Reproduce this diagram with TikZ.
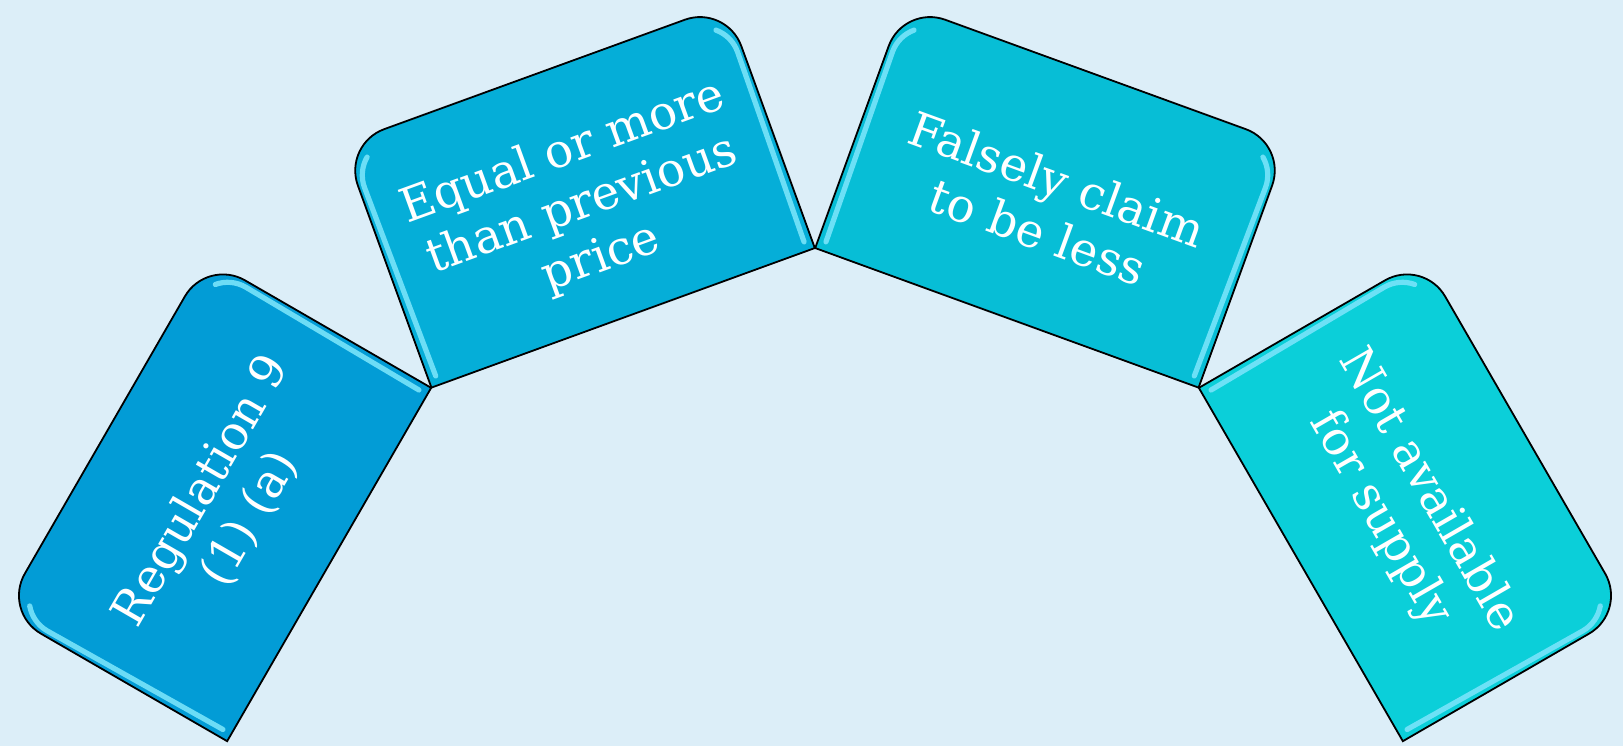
\documentclass[tikz,border=0pt]{standalone}
\usepackage{fontspec}
\setmainfont{DejaVu Serif}
\definecolor{bgc}{RGB}{220,238,248}
\definecolor{c1}{RGB}{2,156,214}
\definecolor{c2}{RGB}{5,174,216}
\definecolor{c3}{RGB}{7,190,214}
\definecolor{c4}{RGB}{11,207,217}
\definecolor{hl}{RGB}{120,228,250}
\begin{document}
\begin{tikzpicture}[x=0.5pt,y=0.5pt,
  boxline/.style={draw=black, line width=0.9pt},
  hilite/.style={draw=hl, line width=2.6pt, line cap=round, opacity=0.9},
  lbl/.style={text=white, font=\fontsize{23.5}{28}\selectfont, align=center}]
\fill[bgc] (0,0) rectangle (1623,746);
\useasboundingbox (0,0) rectangle (1623,746);
\foreach \ang/\col/\txt/\nm in {
  150/c1/{Regulation 9\\(1) (a)}/b1,
  110/c2/{Equal or more\\than previous\\price}/b2,
  70/c3/{Falsely claim\\to be less}/b3,
  30/c4/{Not available\\for supply}/b4}{
  \begin{scope}[shift={(815,-99)}, shift={(\ang:690.5)}, rotate=\ang-90]
    \path[fill=\col, boxline] (-204,-129.5) -- (-204,85.5)
      arc[start angle=180, end angle=90, radius=44] -- (160,129.5)
      arc[start angle=90, end angle=0, radius=44] -- (204,-129.5) -- cycle;
    \draw[hilite] (-185.6,109.1) arc[start angle=130, end angle=180, radius=36] -- (-196,-120);
    \draw[hilite] (185.6,109.1) arc[start angle=50, end angle=0, radius=36] -- (196,-120);
    \node[lbl, transform shape] (\nm) at (0,-10) {\txt};
  \end{scope}
}
\end{tikzpicture}
\end{document}
